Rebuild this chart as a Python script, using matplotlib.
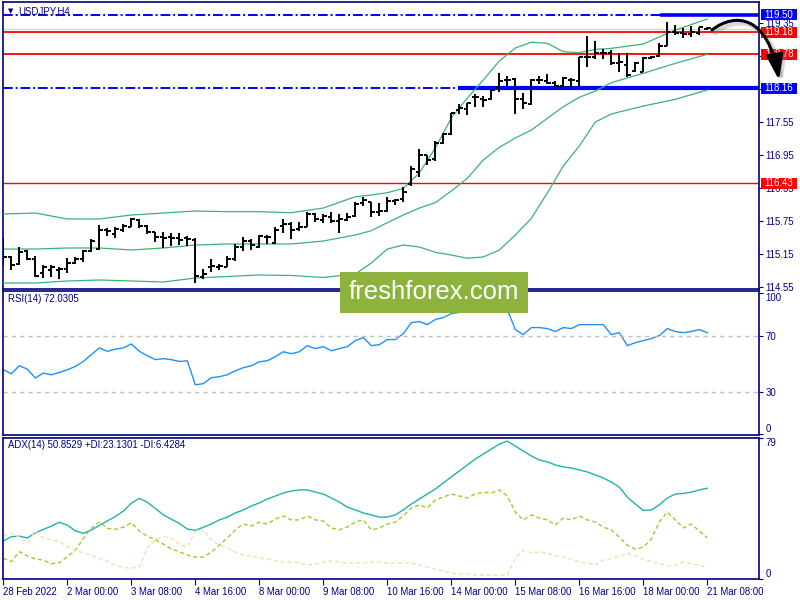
import matplotlib
matplotlib.use("Agg")
import matplotlib.pyplot as plt
from matplotlib.patches import Rectangle, FancyArrowPatch
from matplotlib.path import Path

plt.rcParams['font.family'] = ['Liberation Sans', 'DejaVu Sans']

# ---------------- data ----------------
symbol_title = "USDJPY,H4"
rsi_title = "RSI(14) 72.0305"
adx_title = "ADX(14) 50.8529 +DI:23.1301 -DI:6.4284"
watermark = "freshforex.com"

bar_open = [115.22, 115.09, 114.96, 115.20, 115.05, 114.80, 114.85, 114.85, 114.87, 114.98,
            115.05, 115.20, 115.23, 115.58, 115.51, 115.58, 115.63, 115.76, 115.65, 115.54,
            115.45, 115.45, 115.43, 115.43, 115.40, 114.72, 114.91, 114.91, 114.91, 115.05,
            115.27, 115.38, 115.27, 115.45, 115.34, 115.65, 115.69, 115.60, 115.63, 115.87,
            115.76, 115.82, 115.74, 115.76, 115.84, 116.07, 116.09, 115.91, 115.93, 116.11,
            116.14, 116.42, 116.64, 116.95, 116.87, 117.16, 117.33, 117.77, 117.78, 118.00,
            117.97, 117.97, 118.18, 118.31, 118.33, 117.97, 117.88, 118.31, 118.29, 118.26,
            118.20, 118.31, 118.29, 118.73, 118.73, 118.80, 118.80, 118.62, 118.58, 118.48,
            118.46, 118.71, 118.75, 118.93, 119.19, 119.17, 119.15, 119.17, 119.24]
bar_high = [115.43, 115.10, 115.27, 115.22, 115.10, 114.94, 114.94, 114.91, 115.07, 115.09,
            115.22, 115.42, 115.67, 115.62, 115.63, 115.69, 115.80, 115.78, 115.67, 115.54,
            115.54, 115.53, 115.53, 115.47, 115.43, 114.87, 115.05, 114.96, 115.10, 115.33,
            115.45, 115.42, 115.49, 115.49, 115.63, 115.78, 115.73, 115.73, 115.91, 115.89,
            115.87, 115.91, 115.87, 115.89, 116.09, 116.18, 116.09, 116.07, 116.18, 116.15,
            116.36, 116.75, 117.05, 116.95, 117.20, 117.35, 117.71, 117.88, 117.89, 118.06,
            118.02, 118.15, 118.44, 118.38, 118.35, 118.08, 118.33, 118.38, 118.42, 118.29,
            118.37, 118.35, 118.73, 119.11, 119.02, 118.88, 118.86, 118.80, 118.80, 118.64,
            118.73, 118.75, 118.99, 119.37, 119.31, 119.26, 119.30, 119.28, 119.28]
bar_low = [114.94, 114.85, 114.94, 115.03, 114.72, 114.71, 114.72, 114.69, 114.80, 114.96,
           115.00, 115.18, 115.22, 115.47, 115.43, 115.54, 115.63, 115.62, 115.51, 115.36,
           115.25, 115.29, 115.31, 115.29, 114.61, 114.69, 114.81, 114.85, 114.90, 115.01,
           115.20, 115.22, 115.25, 115.33, 115.33, 115.53, 115.42, 115.56, 115.63, 115.73,
           115.71, 115.71, 115.53, 115.74, 115.82, 116.02, 115.82, 115.83, 115.91, 116.04,
           116.09, 116.38, 116.55, 116.76, 116.84, 117.15, 117.31, 117.69, 117.67, 117.82,
           117.82, 117.95, 118.09, 118.20, 117.69, 117.78, 117.86, 118.24, 118.24, 118.18,
           118.18, 118.18, 118.18, 118.55, 118.69, 118.69, 118.59, 118.46, 118.37, 118.46,
           118.46, 118.69, 118.73, 118.93, 119.13, 119.08, 119.09, 119.13, 119.22]
bar_close = [115.09, 114.94, 115.18, 115.05, 114.74, 114.91, 114.91, 114.87, 114.98, 115.05,
             115.20, 115.38, 115.58, 115.56, 115.60, 115.65, 115.78, 115.65, 115.54, 115.45,
             115.43, 115.43, 115.40, 115.42, 114.74, 114.78, 114.92, 114.92, 115.05, 115.27,
             115.38, 115.31, 115.47, 115.45, 115.58, 115.69, 115.58, 115.63, 115.87, 115.78,
             115.84, 115.74, 115.78, 115.82, 116.05, 116.13, 115.91, 115.93, 116.11, 116.13,
             116.27, 116.69, 116.95, 116.86, 117.16, 117.33, 117.71, 117.80, 117.89, 118.00,
             117.95, 118.13, 118.29, 118.31, 117.97, 117.89, 118.31, 118.31, 118.26, 118.20,
             118.35, 118.31, 118.73, 118.73, 118.80, 118.80, 118.62, 118.64, 118.40, 118.62,
             118.71, 118.73, 118.93, 119.19, 119.17, 119.15, 119.19, 119.28, 119.26]

bb_index = [0, 4, 8, 12, 16, 20, 24, 28, 32, 36, 40, 44, 46, 48, 50, 52, 54, 56, 58, 60,
            62, 64, 66, 68, 70, 72, 74, 76, 80, 84, 88]
bb_upper = [115.871, 115.889, 115.780, 115.780, 115.853, 115.889, 115.926, 115.913, 115.913,
            115.895, 115.980, 116.186, 116.217, 116.259, 116.339, 116.618, 117.073, 117.620,
            117.984, 118.312, 118.658, 118.895, 119.000, 118.980, 118.828, 118.809, 118.871,
            118.889, 118.968, 119.223, 119.423]
bb_middle = [115.233, 115.233, 115.252, 115.252, 115.215, 115.252, 115.306, 115.325, 115.325,
             115.325, 115.379, 115.489, 115.567, 115.713, 115.853, 115.980, 116.077, 116.290,
             116.521, 116.855, 117.086, 117.255, 117.400, 117.614, 117.826, 117.997, 118.111,
             118.263, 118.434, 118.616, 118.780]
bb_lower = [114.614, 114.614, 114.651, 114.669, 114.651, 114.632, 114.705, 114.733, 114.760,
            114.751, 114.715, 114.778, 114.978, 115.233, 115.306, 115.270, 115.173, 115.124,
            115.064, 115.088, 115.215, 115.488, 115.793, 116.254, 116.745, 117.110, 117.547,
            117.693, 117.838, 117.960, 118.130]

rsi = [45.8, 43.0, 48.7, 46.3, 40.0, 43.5, 42.3, 43.9, 45.8, 48.2,
       51.7, 56.5, 61.3, 58.9, 60.5, 61.3, 64.1, 58.9, 55.8, 53.0,
       53.7, 53.0, 51.7, 52.2, 35.2, 36.0, 40.2, 40.9, 42.3, 45.1,
       47.3, 48.7, 51.5, 52.2, 55.1, 58.6, 57.2, 58.6, 62.9, 60.8,
       62.2, 59.3, 60.8, 62.2, 66.5, 68.6, 62.9, 63.6, 67.2, 67.2,
       71.4, 79.2, 80.0, 77.8, 81.4, 82.8, 85.6, 86.4, 87.1, 87.8,
       87.1, 87.8, 89.2, 88.5, 74.3, 70.7, 75.7, 75.7, 75.0, 72.9,
       75.7, 75.0, 77.8, 77.8, 77.8, 77.8, 70.7, 72.1, 62.9, 65.0,
       66.5, 67.9, 70.0, 75.0, 72.9, 72.1, 72.9, 74.3, 72.03]
rsi_levels = [70, 30]

adx = [21.3, 23.7, 24.0, 23.0, 25.8, 27.8, 29.6, 31.8, 30.2, 27.0,
       25.6, 27.4, 30.0, 32.5, 35.0, 38.0, 42.5, 45.2, 43.0, 39.5,
       36.0, 33.5, 31.2, 28.0, 27.2, 29.0, 30.8, 33.1, 34.7, 37.0,
       38.7, 40.9, 42.6, 44.8, 46.5, 48.2, 49.3, 49.9, 49.9, 48.7,
       47.6, 45.4, 43.1, 40.3, 38.7, 37.0, 35.9, 34.7, 34.7, 35.9,
       38.7, 42.0, 44.8, 47.6, 50.4, 53.8, 57.2, 60.5, 63.9, 67.2,
       70.0, 72.8, 75.6, 77.3, 74.5, 71.7, 68.9, 66.7, 65.6, 63.9,
       62.8, 62.2, 61.1, 60.0, 58.3, 56.6, 54.3, 51.5, 45.9, 42.0,
       38.4, 38.7, 41.5, 45.4, 47.6, 47.9, 48.7, 49.9, 50.85]
plus_di = [11.6, 9.7, 15.3, 12.9, 11.2, 10.6, 8.6, 9.0, 12.5, 16.0,
           22.8, 28.4, 32.0, 28.4, 27.8, 29.0, 31.5, 26.8, 24.0, 22.0,
           19.6, 16.8, 15.3, 13.4, 12.2, 12.3, 15.1, 19.0, 23.0, 27.5,
           30.8, 29.7, 31.9, 30.8, 33.6, 35.3, 33.1, 33.1, 35.3, 33.1,
           32.5, 28.6, 27.5, 29.1, 31.9, 33.1, 27.5, 28.6, 30.8, 31.9,
           35.3, 39.8, 41.5, 39.8, 44.3, 45.9, 47.6, 46.5, 45.4, 47.6,
           48.7, 48.2, 49.9, 46.5, 37.5, 33.1, 35.9, 34.2, 33.1, 30.3,
           34.2, 33.1, 35.3, 33.1, 31.9, 29.1, 27.5, 23.5, 19.0, 16.8,
           17.9, 22.4, 31.9, 37.5, 33.1, 28.6, 30.8, 26.9, 23.13]
minus_di = [24.1, 25.6, 23.4, 20.0, 26.5, 23.0, 22.0, 21.0, 18.1, 16.5,
            14.5, 13.2, 11.6, 10.0, 7.5, 6.5, 6.0, 6.8, 17.5, 21.9,
            23.7, 23.0, 19.5, 17.8, 26.8, 27.5, 21.9, 19.0, 17.4, 15.1,
            13.4, 12.9, 11.8, 11.2, 10.1, 9.5, 9.5, 9.0, 7.8, 8.4,
            9.5, 10.1, 9.5, 9.0, 9.0, 9.0, 9.5, 9.5, 9.0, 9.0,
            9.0, 9.0, 7.8, 6.7, 5.6, 4.5, 3.4, 2.8, 2.8, 2.2,
            2.2, 2.2, 2.2, 2.2, 11.8, 16.2, 14.6, 15.1, 14.6, 12.9,
            12.3, 11.2, 9.5, 9.0, 7.8, 10.6, 11.5, 12.9, 14.6, 12.9,
            11.0, 9.8, 8.7, 7.3, 7.8, 9.5, 8.7, 7.6, 6.43]

x_tick_index = [0, 8, 16, 24, 32, 40, 48, 56, 64, 72, 80, 88]
x_tick_labels = ['28 Feb 2022', '2 Mar 00:00', '3 Mar 08:00', '4 Mar 16:00', '8 Mar 00:00',
                 '9 Mar 08:00', '10 Mar 16:00', '14 Mar 00:00', '15 Mar 08:00',
                 '16 Mar 16:00', '18 Mar 00:00', '21 Mar 08:00']

price_ticks = [114.55, 115.15, 115.75, 116.35, 116.95, 117.55, 118.15, 118.75, 119.35]
level_blue = [119.50, 118.16]
level_blue_solid_from = [82.1, 56.8]
level_red = [119.18, 118.78, 116.43]
ask_price = 119.235

# ---------------- styling ----------------
NAVY = '#000080'
BLUE = '#0000FF'
RED = '#FF0000'
GREEN = '#3CB371'
W, H = 800.0, 600.0
FS = 6.9

fig = plt.figure(figsize=(8, 6), dpi=100)
fig.patch.set_facecolor('white')


def px_axes(x0, y0, x1, y1):
    return fig.add_axes([x0 / W, 1 - y1 / H, (x1 - x0) / W, (y1 - y0) / H])


def ftext(xp, yp, s, **kw):
    return fig.text(xp / W, 1 - yp / H, s, **kw)


def fpt(xp, yp):
    return (xp / W, 1 - yp / H)


ax = px_axes(2.5, 2, 759, 288.5)
ax_rsi = px_axes(2.5, 291, 759, 435)
ax_adx = px_axes(2.5, 438, 759, 579)

for a in (ax, ax_rsi, ax_adx):
    a.set_xlim(-0.1, 94.46)
    a.set_facecolor('white')
    for s in a.spines.values():
        s.set_color(NAVY)
        s.set_linewidth(1.2)
    a.tick_params(axis='y', left=False, labelleft=False, right=True, labelright=True,
                  direction='out', length=3, width=0.8, color=NAVY, labelsize=FS,
                  labelcolor=NAVY, pad=1.5)
    a.tick_params(axis='x', bottom=False, labelbottom=False)

# ---------------- main price panel ----------------
ax.set_ylim(114.514, 119.733)
ax.set_yticks(price_ticks)
ax.set_yticklabels([f'{p:.2f}' for p in price_ticks])

ax.axhline(ask_price, color='#D4D4D4', lw=1.0, zorder=1)
for p in level_red:
    ax.axhline(p, color=RED, lw=1.3 if p > 117 else 1.0, zorder=2)
for p, x0 in zip(level_blue, level_blue_solid_from):
    ax.axhline(p, color=BLUE, lw=1.4, ls=(0, (5, 1.5, 1, 1.5)), zorder=2)
    ax.hlines(p, x0, 94.46, color=BLUE, lw=2.6 if p > 119 else 3.0, zorder=2)

ax.plot(bb_index, bb_upper, color=GREEN, lw=0.9, zorder=3)
ax.plot(bb_index, bb_middle, color=GREEN, lw=0.9, zorder=3)
ax.plot(bb_index, bb_lower, color=GREEN, lw=0.9, zorder=3)

idx = list(range(len(bar_open)))
ax.vlines(idx, bar_low, bar_high, color='black', lw=1.4, zorder=4)
ax.hlines(bar_open, [i - 0.42 for i in idx], idx, color='black', lw=1.4, zorder=4)
ax.hlines(bar_close, idx, [i + 0.42 for i in idx], color='black', lw=1.4, zorder=4)

# price boxes on the right scale
for p, c in [(119.50, BLUE), (119.18, RED), (118.78, RED), (118.16, BLUE), (116.43, RED)]:
    ax.add_patch(Rectangle((1.0027, p - 0.1), 0.0478, 0.2, transform=ax.get_yaxis_transform(),
                           facecolor=c, edgecolor='none', clip_on=False, zorder=6))
    ax.text(1.0266, p, f'{p:.2f}', transform=ax.get_yaxis_transform(), color='white',
            fontsize=FS, ha='center', va='center', zorder=7, clip_on=False)

ftext(8, 11, '\u25BC', fontsize=5, color=NAVY, ha='left', va='center', family='DejaVu Sans')
ftext(18, 11, symbol_title, fontsize=FS, color=NAVY, ha='left', va='center')

# ---------------- RSI panel ----------------
ax_rsi.set_ylim(-0.36, 101.6)
ax_rsi.plot(idx, rsi, color='#1E90FF', lw=1.0)
for lv in rsi_levels:
    ax_rsi.axhline(lv, color='#C0C0C0', lw=1.0, ls=(0, (3, 3)))
ax_rsi.set_yticks([100, 70, 30, 0])
ax_rsi.set_yticklabels(['100', '70', '30', '0'])
labs = ax_rsi.get_yticklabels()
labs[0].set_verticalalignment('top')
labs[3].set_verticalalignment('bottom')
ftext(8, 299, rsi_title, fontsize=FS, color=NAVY, ha='left', va='center')

# ---------------- ADX panel ----------------
ax_adx.set_ylim(0, 79)
ax_adx.plot(idx, adx, color='#20B2AA', lw=1.0)
ax_adx.plot(idx, plus_di, color='#9ACD32', lw=1.0, ls=(0, (3, 2)))
ax_adx.plot(idx, minus_di, color='#F5DEB3', lw=1.0, ls=(0, (3, 2)))
ax_adx.set_yticks([79, 0])
ax_adx.set_yticklabels(['79', '0'])
labs = ax_adx.get_yticklabels()
labs[0].set_verticalalignment('top')
labs[1].set_verticalalignment('bottom')
ftext(8, 445, adx_title, fontsize=FS, color=NAVY, ha='left', va='center')

ax_adx.set_xticks(x_tick_index)
ax_adx.set_xticklabels(x_tick_labels, ha='left')
ax_adx.tick_params(axis='x', bottom=True, labelbottom=True, direction='out', length=4,
                   width=0.8, color=NAVY, labelsize=FS, labelcolor=NAVY, pad=1.5)

# ---------------- watermark ----------------
fig.add_artist(Rectangle((340 / W, 1 - 313 / H), 188 / W, 41 / H, transform=fig.transFigure,
                         facecolor='#8DB33E', edgecolor='none', zorder=8))
ftext(433.5, 292, watermark, fontsize=18.5, color='white', ha='center', va='center', zorder=9)

# ---------------- forecast arrow (cubic curve) ----------------
astyle = '-|>,head_length=0.95,head_width=0.32'
codes = [Path.MOVETO, Path.CURVE4, Path.CURVE4, Path.CURVE4]
shadow_pts = [fpt(715, 33), fpt(738, 15), fpt(771, 18), fpt(782, 83)]
main_pts = [fpt(712, 30), fpt(735, 12), fpt(768, 15), fpt(779, 80)]
sh = FancyArrowPatch(path=Path(shadow_pts, codes), arrowstyle=astyle, mutation_scale=16,
                     lw=3.4, color='#808080', alpha=0.3, transform=fig.transFigure, zorder=10)
fig.add_artist(sh)
arr = FancyArrowPatch(path=Path(main_pts, codes), arrowstyle=astyle, mutation_scale=16,
                      lw=2.2, color='black', transform=fig.transFigure, zorder=11)
fig.add_artist(arr)

fig.savefig('out.png', dpi=100, facecolor='white')
